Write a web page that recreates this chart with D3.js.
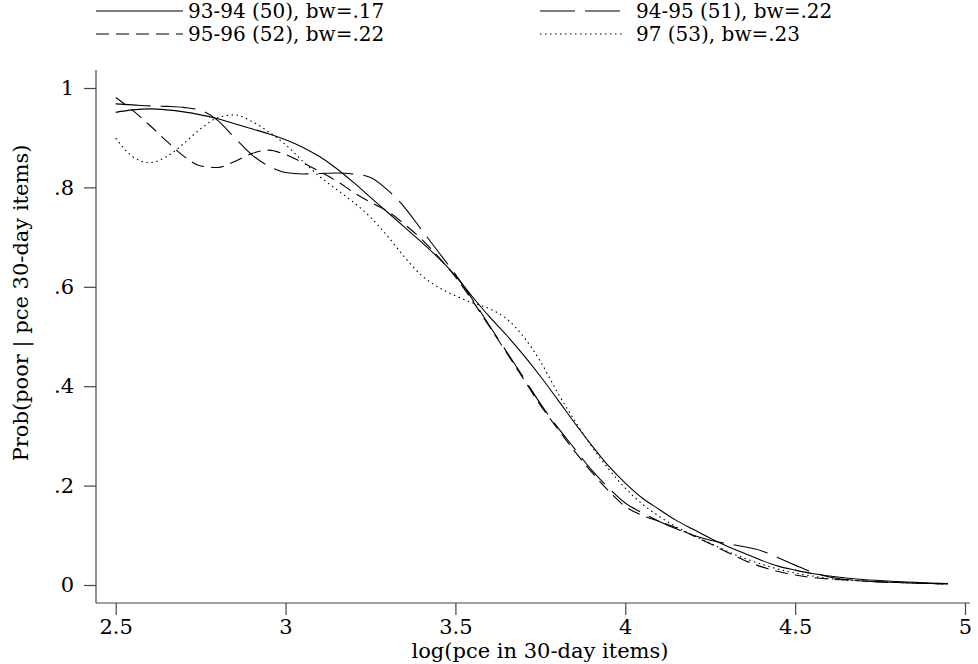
<!DOCTYPE html>
<html><head><meta charset="utf-8">
<script src="https://cdn.jsdelivr.net/npm/d3@7"></script>
<style>
body{margin:0;background:#fff}
svg{display:block}
text{font-family:"DejaVu Serif",serif;fill:#000}
</style>
</head><body>
<svg id="chart" width="978" height="664"></svg>
<script>
// x grid: log(pce in 30-day items)
const xGrid = [2.50,2.55,2.60,2.65,2.70,2.75,2.80,2.85,2.90,2.95,
  3.00,3.05,3.10,3.15,3.20,3.25,3.30,3.35,3.40,3.45,
  3.50,3.55,3.60,3.65,3.70,3.75,3.80,3.85,3.90,3.95,
  4.00,4.05,4.10,4.15,4.20,4.25,4.30,4.35,4.40,4.45,
  4.50,4.55,4.60,4.65,4.70,4.80,4.90,4.95];

const s9394 = [0.951,0.956,0.958,0.956,0.952,0.946,0.938,0.928,0.918,0.908,
  0.896,0.881,0.862,0.838,0.810,0.780,0.750,0.720,0.690,0.658,
  0.622,0.580,0.540,0.503,0.463,0.420,0.374,0.327,0.282,0.240,
  0.205,0.175,0.152,0.130,0.112,0.094,0.078,0.064,0.050,0.038,
  0.030,0.023,0.018,0.014,0.011,0.007,0.004,0.003];

const s9495 = [0.968,0.966,0.964,0.963,0.961,0.955,0.935,0.900,0.866,0.843,
  0.830,0.827,0.828,0.829,0.827,0.820,0.795,0.760,0.715,0.670,
  0.625,0.575,0.522,0.470,0.418,0.365,0.318,0.275,0.232,0.196,
  0.165,0.145,0.128,0.113,0.100,0.090,0.083,0.077,0.069,0.055,
  0.040,0.026,0.016,0.011,0.008,0.005,0.003,0.002];

const s9596 = [0.981,0.955,0.925,0.893,0.863,0.843,0.840,0.852,0.868,0.875,
  0.866,0.850,0.832,0.813,0.790,0.770,0.752,0.726,0.696,0.660,
  0.620,0.572,0.520,0.468,0.415,0.362,0.315,0.270,0.228,0.190,
  0.158,0.140,0.128,0.115,0.099,0.083,0.066,0.050,0.037,0.027,
  0.020,0.015,0.012,0.010,0.008,0.005,0.003,0.002];

const s97 = [0.899,0.862,0.850,0.862,0.888,0.918,0.940,0.946,0.933,0.912,
  0.886,0.853,0.822,0.796,0.770,0.740,0.702,0.660,0.623,0.599,
  0.582,0.568,0.556,0.536,0.500,0.450,0.388,0.332,0.280,0.234,
  0.195,0.163,0.138,0.117,0.100,0.084,0.068,0.054,0.042,0.032,
  0.024,0.018,0.013,0.010,0.008,0.005,0.003,0.002];

const seriesNames = ["93-94 (50), bw=.17","94-95 (51), bw=.22","95-96 (52), bw=.22","97 (53), bw=.23"];
const xTicks = [2.5,3,3.5,4,4.5,5];
const xTickLabels = ["2.5","3","3.5","4","4.5","5"];
const yTicks = [0,0.2,0.4,0.6,0.8,1];
const yTickLabels = ["0",".2",".4",".6",".8","1"];
const xTitle = "log(pce in 30-day items)";
const yTitle = "Prob(poor | pce 30-day items)";

const dashes = ["none","35,10","13,7","1.5,3.5"];
const FS = 21, LFS = 20;

const svg = d3.select("#chart");
const x = d3.scaleLinear().domain([2.5,5]).range([115.7,965]);
const y = d3.scaleLinear().domain([0,1]).range([585,88]);

const axL = 96, axB = 603, axTop = 70, axRight = 970;
const axisColor = "#444";

// axis lines
svg.append("line").attr("x1",axL).attr("x2",axL).attr("y1",axTop).attr("y2",axB)
  .attr("stroke",axisColor).attr("stroke-width",1.2);
svg.append("line").attr("x1",axL).attr("x2",axRight).attr("y1",axB).attr("y2",axB)
  .attr("stroke",axisColor).attr("stroke-width",1.2);

const xAxis = d3.axisBottom(x).tickValues(xTicks)
  .tickFormat((d,i)=>xTickLabels[i]).tickSize(12).tickPadding(4);
const gx = svg.append("g").attr("transform",`translate(0,${axB})`).call(xAxis);
gx.select(".domain").remove();
gx.selectAll(".tick line").attr("stroke",axisColor).attr("stroke-width",1.2);
gx.selectAll(".tick text").attr("font-family","DejaVu Serif").attr("font-size",FS).attr("fill","#000");

const yAxis = d3.axisLeft(y).tickValues(yTicks)
  .tickFormat((d,i)=>yTickLabels[i]).tickSize(12).tickPadding(10);
const gy = svg.append("g").attr("transform",`translate(${axL},0)`).call(yAxis);
gy.select(".domain").remove();
gy.selectAll(".tick line").attr("stroke",axisColor).attr("stroke-width",1.2);
gy.selectAll(".tick text").attr("font-family","DejaVu Serif").attr("font-size",FS).attr("fill","#000");

// titles
svg.append("text").attr("x",540).attr("y",658).attr("text-anchor","middle")
  .attr("font-size",FS).text(xTitle);
svg.append("text").attr("transform","translate(28,303) rotate(-90)").attr("text-anchor","middle")
  .attr("font-size",FS).text(yTitle);

// curves
const allSeries = [s9394,s9495,s9596,s97];
const line = d3.line().x(d=>x(d[0])).y(d=>y(d[1])).curve(d3.curveMonotoneX);
allSeries.forEach((s,i)=>{
  svg.append("path").datum(xGrid.map((xv,j)=>[xv,s[j]]))
    .attr("d",line).attr("fill","none").attr("stroke","#000")
    .attr("stroke-width",1.1).attr("stroke-dasharray",dashes[i]);
});

// legend
const legPos = [
  {x1:96,x2:183,ty:11,tx:188},
  {x1:540,x2:622,ty:11,tx:636},
  {x1:96,x2:183,ty:34,tx:188},
  {x1:540,x2:622,ty:34,tx:636}
];
seriesNames.forEach((name,i)=>{
  const p = legPos[i];
  svg.append("line").attr("x1",p.x1).attr("x2",p.x2).attr("y1",p.ty).attr("y2",p.ty)
    .attr("stroke","#000").attr("stroke-width",1.1).attr("stroke-dasharray",dashes[i]);
  svg.append("text").attr("x",p.tx).attr("y",p.ty).attr("dy","0.35em")
    .attr("font-size",LFS).text(name);
});
</script>
</body></html>
